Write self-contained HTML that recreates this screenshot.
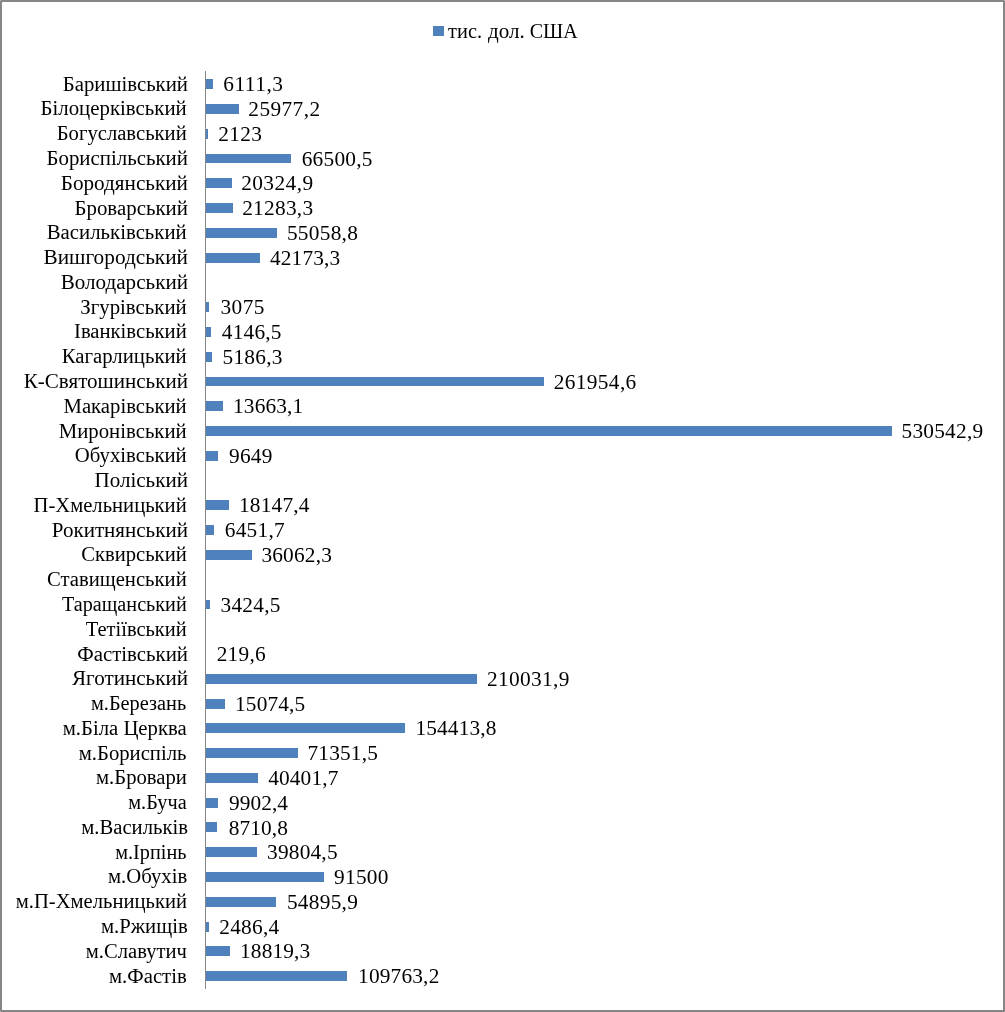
<!DOCTYPE html>
<html lang="uk"><head><meta charset="utf-8"><title>Chart</title>
<style>
html,body{margin:0;padding:0;background:#fff;}
body{width:1005px;height:1012px;overflow:hidden;}
svg{display:block;}
text{font-family:"Liberation Serif","Times New Roman",serif;font-size:21.33px;fill:#000;white-space:pre;}
.bar{fill:#4f81bd;}
</style></head><body>
<svg width="1005" height="1012" viewBox="0 0 1005 1012">
<rect x="0" y="0" width="1005" height="1012" fill="#fff"/>
<rect x="0" y="0" width="1005" height="2" fill="#868686"/>
<rect x="0" y="1010" width="1005" height="2" fill="#868686"/>
<rect x="0" y="0" width="2" height="1012" fill="#868686"/>
<rect x="1003" y="0" width="2" height="1012" fill="#868686"/>
<rect x="0" y="0" width="1" height="1" fill="#b9b9b9"/>
<rect x="1004" y="0" width="1" height="1" fill="#bcbcbc"/>
<rect x="0" y="1011" width="1" height="1" fill="#a8a8a8"/>
<rect x="1004" y="1011" width="1" height="1" fill="#9c9c9c"/>
<rect class="bar" x="433" y="26" width="11" height="10"/>
<text id="leg" y="38"><tspan x="448.05" textLength="34.00" lengthAdjust="spacingAndGlyphs">тис.</tspan> <tspan x="488.10" textLength="36.75" lengthAdjust="spacingAndGlyphs">дол.</tspan> <tspan x="529.75" textLength="48.00" lengthAdjust="spacingAndGlyphs">США</tspan></text>
<rect class="bar" x="205.00" y="79.00" width="8.00" height="10.00"/>
<rect class="bar" x="205.00" y="104.00" width="34.00" height="10.00"/>
<rect class="bar" x="205.00" y="129.00" width="3.00" height="10.00"/>
<rect class="bar" x="205.00" y="154.00" width="86.00" height="9.00"/>
<rect class="bar" x="205.00" y="178.00" width="27.00" height="10.00"/>
<rect class="bar" x="205.00" y="203.00" width="28.00" height="10.00"/>
<rect class="bar" x="205.00" y="228.00" width="72.00" height="10.00"/>
<rect class="bar" x="205.00" y="253.00" width="55.00" height="10.00"/>
<rect class="bar" x="205.00" y="302.00" width="4.00" height="10.00"/>
<rect class="bar" x="205.00" y="327.00" width="6.00" height="10.00"/>
<rect class="bar" x="205.00" y="352.00" width="7.00" height="10.00"/>
<rect class="bar" x="205.00" y="377.00" width="339.00" height="9.00"/>
<rect class="bar" x="205.00" y="401.00" width="18.00" height="10.00"/>
<rect class="bar" x="205.00" y="426.00" width="687.00" height="10.00"/>
<rect class="bar" x="205.00" y="451.00" width="13.00" height="10.00"/>
<rect class="bar" x="205.00" y="500.00" width="24.00" height="10.00"/>
<rect class="bar" x="205.00" y="525.00" width="9.00" height="10.00"/>
<rect class="bar" x="205.00" y="550.00" width="47.00" height="10.00"/>
<rect class="bar" x="205.00" y="600.00" width="5.00" height="9.00"/>
<rect class="bar" x="205.00" y="649.00" width="1.00" height="10.00"/>
<rect class="bar" x="205.00" y="674.00" width="272.00" height="10.00"/>
<rect class="bar" x="205.00" y="699.00" width="20.00" height="10.00"/>
<rect class="bar" x="205.00" y="723.00" width="200.00" height="10.00"/>
<rect class="bar" x="205.00" y="748.00" width="93.00" height="10.00"/>
<rect class="bar" x="205.00" y="773.00" width="53.00" height="10.00"/>
<rect class="bar" x="205.00" y="798.00" width="13.00" height="10.00"/>
<rect class="bar" x="205.00" y="822.00" width="12.00" height="10.00"/>
<rect class="bar" x="205.00" y="847.00" width="52.00" height="10.00"/>
<rect class="bar" x="205.00" y="872.00" width="119.00" height="10.00"/>
<rect class="bar" x="205.00" y="897.00" width="71.00" height="10.00"/>
<rect class="bar" x="205.00" y="922.00" width="4.00" height="10.00"/>
<rect class="bar" x="205.00" y="946.00" width="25.00" height="10.00"/>
<rect class="bar" x="205.00" y="971.00" width="142.00" height="10.00"/>
<rect x="205" y="71" width="1" height="918" fill="#868686"/>
<text id="l0" x="62.75" y="91.00" textLength="125.20" lengthAdjust="spacingAndGlyphs">Баришівський</text>
<text id="v0" x="223.25" y="91.00" textLength="59.75" lengthAdjust="spacing">6111,3</text>
<text id="l1" x="40.50" y="115.00" textLength="146.20" lengthAdjust="spacingAndGlyphs">Білоцерківський</text>
<text id="v1" x="248.35" y="116.00" textLength="71.75" lengthAdjust="spacing">25977,2</text>
<text id="l2" x="56.75" y="140.00" textLength="129.95" lengthAdjust="spacingAndGlyphs">Богуславський</text>
<text id="v2" x="218.25" y="141.00" textLength="43.75" lengthAdjust="spacing">2123</text>
<text id="l3" x="46.50" y="165.00" textLength="141.45" lengthAdjust="spacingAndGlyphs">Бориспільський</text>
<text id="v3" x="301.70" y="166.00" textLength="70.75" lengthAdjust="spacing">66500,5</text>
<text id="l4" x="60.75" y="190.00" textLength="127.20" lengthAdjust="spacingAndGlyphs">Бородянський</text>
<text id="v4" x="241.15" y="190.00" textLength="72.00" lengthAdjust="spacing">20324,9</text>
<text id="l5" x="74.50" y="215.00" textLength="113.45" lengthAdjust="spacingAndGlyphs">Броварський</text>
<text id="v5" x="242.15" y="215.00" textLength="71.00" lengthAdjust="spacing">21283,3</text>
<text id="l6" x="46.75" y="239.00" textLength="139.95" lengthAdjust="spacingAndGlyphs">Васильківський</text>
<text id="v6" x="286.90" y="240.00" textLength="71.00" lengthAdjust="spacing">55058,8</text>
<text id="l7" x="43.50" y="264.00" textLength="144.45" lengthAdjust="spacingAndGlyphs">Вишгородський</text>
<text id="v7" x="270.05" y="265.00" textLength="70.00" lengthAdjust="spacing">42173,3</text>
<text id="l8" x="60.75" y="289.00" textLength="127.20" lengthAdjust="spacingAndGlyphs">Володарський</text>
<text id="l9" x="80.25" y="314.00" textLength="106.45" lengthAdjust="spacingAndGlyphs">Згурівський</text>
<text id="v9" x="220.45" y="314.00" textLength="44.00" lengthAdjust="spacing">3075</text>
<text id="l10" x="74.00" y="338.00" textLength="112.70" lengthAdjust="spacingAndGlyphs">Іванківський</text>
<text id="v10" x="221.75" y="339.00" textLength="59.75" lengthAdjust="spacing">4146,5</text>
<text id="l11" x="61.75" y="363.00" textLength="124.95" lengthAdjust="spacingAndGlyphs">Кагарлицький</text>
<text id="v11" x="222.60" y="364.00" textLength="59.75" lengthAdjust="spacing">5186,3</text>
<text id="l12" x="23.75" y="388.00" textLength="164.20" lengthAdjust="spacingAndGlyphs">К-Святошинський</text>
<text id="v12" x="553.75" y="389.00" textLength="82.50" lengthAdjust="spacing">261954,6</text>
<text id="l13" x="63.50" y="413.00" textLength="123.20" lengthAdjust="spacingAndGlyphs">Макарівський</text>
<text id="v13" x="233.00" y="413.00" textLength="70.25" lengthAdjust="spacing">13663,1</text>
<text id="l14" x="58.75" y="438.00" textLength="127.95" lengthAdjust="spacingAndGlyphs">Миронівський</text>
<text id="v14" x="901.60" y="438.00" textLength="81.50" lengthAdjust="spacing">530542,9</text>
<text id="l15" x="74.75" y="462.00" textLength="111.95" lengthAdjust="spacingAndGlyphs">Обухівський</text>
<text id="v15" x="228.95" y="463.00" textLength="43.50" lengthAdjust="spacing">9649</text>
<text id="l16" x="94.50" y="487.00" textLength="93.45" lengthAdjust="spacingAndGlyphs">Поліський</text>
<text id="l17" x="33.50" y="512.00" textLength="153.20" lengthAdjust="spacingAndGlyphs">П-Хмельницький</text>
<text id="v17" x="239.00" y="512.00" textLength="70.50" lengthAdjust="spacing">18147,4</text>
<text id="l18" x="51.75" y="537.00" textLength="136.20" lengthAdjust="spacingAndGlyphs">Рокитнянський</text>
<text id="v18" x="224.70" y="537.00" textLength="60.00" lengthAdjust="spacing">6451,7</text>
<text id="l19" x="81.25" y="561.00" textLength="105.45" lengthAdjust="spacingAndGlyphs">Сквирський</text>
<text id="v19" x="261.40" y="562.00" textLength="70.50" lengthAdjust="spacing">36062,3</text>
<text id="l20" x="47.00" y="586.00" textLength="139.70" lengthAdjust="spacingAndGlyphs">Ставищенський</text>
<text id="l21" x="62.00" y="611.00" textLength="124.70" lengthAdjust="spacingAndGlyphs">Таращанський</text>
<text id="v21" x="220.45" y="612.00" textLength="60.00" lengthAdjust="spacing">3424,5</text>
<text id="l22" x="85.75" y="636.00" textLength="100.95" lengthAdjust="spacingAndGlyphs">Тетіївський</text>
<text id="l23" x="77.25" y="661.00" textLength="110.70" lengthAdjust="spacingAndGlyphs">Фастівський</text>
<text id="v23" x="216.70" y="661.00" textLength="49.00" lengthAdjust="spacing">219,6</text>
<text id="l24" x="72.00" y="685.00" textLength="115.95" lengthAdjust="spacingAndGlyphs">Яготинський</text>
<text id="v24" x="487.05" y="686.00" textLength="82.25" lengthAdjust="spacing">210031,9</text>
<text id="l25" x="91.00" y="710.00" textLength="95.20" lengthAdjust="spacingAndGlyphs">м.Березань</text>
<text id="v25" x="235.00" y="711.00" textLength="70.25" lengthAdjust="spacing">15074,5</text>
<text id="l26" x="62.75" y="735.00" textLength="123.95" lengthAdjust="spacingAndGlyphs">м.Біла Церква</text>
<text id="v26" x="415.55" y="735.00" textLength="80.75" lengthAdjust="spacing">154413,8</text>
<text id="l27" x="78.75" y="760.00" textLength="107.70" lengthAdjust="spacingAndGlyphs">м.Бориспіль</text>
<text id="v27" x="307.55" y="760.00" textLength="70.25" lengthAdjust="spacing">71351,5</text>
<text id="l28" x="96.00" y="784.00" textLength="90.95" lengthAdjust="spacingAndGlyphs">м.Бровари</text>
<text id="v28" x="268.15" y="785.00" textLength="70.25" lengthAdjust="spacing">40401,7</text>
<text id="l29" x="128.25" y="809.00" textLength="58.45" lengthAdjust="spacingAndGlyphs">м.Буча</text>
<text id="v29" x="228.95" y="810.00" textLength="59.00" lengthAdjust="spacing">9902,4</text>
<text id="l30" x="81.25" y="834.00" textLength="106.70" lengthAdjust="spacingAndGlyphs">м.Васильків</text>
<text id="v30" x="228.70" y="835.00" textLength="59.25" lengthAdjust="spacing">8710,8</text>
<text id="l31" x="115.25" y="859.00" textLength="71.20" lengthAdjust="spacingAndGlyphs">м.Ірпінь</text>
<text id="v31" x="267.05" y="859.00" textLength="70.50" lengthAdjust="spacing">39804,5</text>
<text id="l32" x="108.00" y="883.00" textLength="79.20" lengthAdjust="spacingAndGlyphs">м.Обухів</text>
<text id="v32" x="334.10" y="884.00" textLength="54.25" lengthAdjust="spacing">91500</text>
<text id="l33" x="15.75" y="908.00" textLength="171.20" lengthAdjust="spacingAndGlyphs">м.П-Хмельницький</text>
<text id="v33" x="286.90" y="909.00" textLength="71.00" lengthAdjust="spacing">54895,9</text>
<text id="l34" x="101.00" y="933.00" textLength="86.70" lengthAdjust="spacingAndGlyphs">м.Ржищів</text>
<text id="v34" x="219.25" y="934.00" textLength="60.00" lengthAdjust="spacing">2486,4</text>
<text id="l35" x="85.75" y="958.00" textLength="101.20" lengthAdjust="spacingAndGlyphs">м.Славутич</text>
<text id="v35" x="240.00" y="958.00" textLength="70.25" lengthAdjust="spacing">18819,3</text>
<text id="l36" x="109.00" y="983.00" textLength="77.70" lengthAdjust="spacingAndGlyphs">м.Фастів</text>
<text id="v36" x="358.05" y="983.00" textLength="81.25" lengthAdjust="spacing">109763,2</text>
</svg>
</body></html>
